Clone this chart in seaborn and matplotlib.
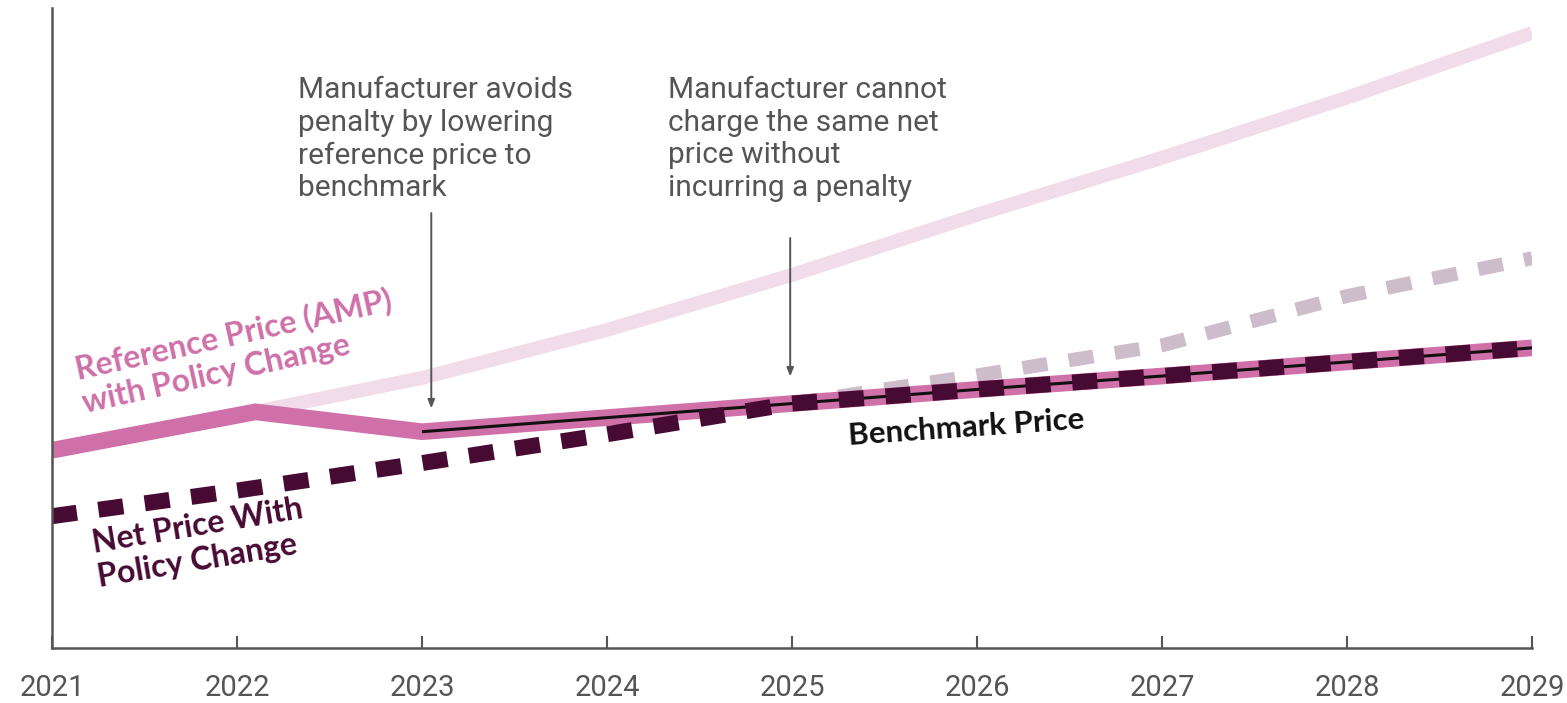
import seaborn as sns
import matplotlib.pyplot as plt
import pandas as pd

# years on the axis
years = [2021, 2022, 2023, 2024, 2025, 2026, 2027, 2028, 2029]

# reference price (AMP) with policy change: rises, then drops to benchmark in 2023
ref_policy_x = [2021, 2022.1, 2023, 2024, 2025, 2026, 2027, 2028, 2029]
ref_policy_y = [30.9, 36.9, 33.8, 36.0, 38.2, 40.4, 42.5, 44.7, 46.9]

# reference price without policy change (faded)
ref_base_x = [2022.1, 2023, 2024, 2025, 2026, 2027, 2028, 2029]
ref_base_y = [36.9, 42.2, 49.7, 58.3, 67.7, 76.6, 86.0, 96.1]

# benchmark price
bench_x = [2023, 2024, 2025, 2026, 2027, 2028, 2029]
bench_y = [33.8, 36.0, 38.2, 40.4, 42.5, 44.7, 46.9]

# net price with policy change
net_policy_y = [20.6, 24.6, 28.9, 33.4, 38.2, 40.4, 42.5, 44.7, 46.9]

# net price without policy change (faded, visible after 2025)
net_base_x = [2025, 2026, 2027, 2028, 2029]
net_base_y = [38.2, 42.6, 47.3, 55.0, 60.9]

PINK = '#CF70A9'
LIGHT_PINK = '#F1DCE9'
MAUVE = '#CDBDCB'
DARK = '#470A33'
GREY = '#555555'

sns.set_style('ticks')
plt.rcParams['font.family'] = ['Roboto', 'DejaVu Sans']

fig, ax = plt.subplots(figsize=(15.67, 7.03), dpi=100)
fig.subplots_adjust(left=0.0332, right=0.9777, bottom=0.0782, top=0.9886)

sns.lineplot(x=ref_base_x, y=ref_base_y, ax=ax, color=LIGHT_PINK, lw=10,
             solid_capstyle='butt')
sns.lineplot(x=net_base_x, y=net_base_y, ax=ax, color=MAUVE, lw=10,
             linestyle=(0, (1.8, 1.56)))
sns.lineplot(x=ref_policy_x, y=ref_policy_y, ax=ax, color=PINK, lw=12,
             solid_capstyle='butt', solid_joinstyle='miter')
sns.lineplot(x=bench_x, y=bench_y, ax=ax, color='#111111', lw=2.2,
             solid_capstyle='butt')
sns.lineplot(x=years, y=net_policy_y, ax=ax, color=DARK, lw=11.5,
             linestyle=(0, (1.57, 1.36)))

ax.set_xlim(2021, 2029)
ax.set_ylim(0, 100)
ax.set_xticks(years)
ax.set_xticklabels([str(y) for y in years])
ax.set_yticks([])
ax.set_xlabel('')
ax.set_ylabel('')
ax.tick_params(axis='x', direction='in', length=9, width=1.5, color=GREY,
               labelsize=21, labelcolor=GREY, pad=19)
for s in ['top', 'right']:
    ax.spines[s].set_visible(False)
for s in ['left', 'bottom']:
    ax.spines[s].set_color(GREY)
    ax.spines[s].set_linewidth(1.8)

# series labels
ax.text(2022.0, 46.3, 'Reference Price (AMP)\nwith Policy Change', color=PINK,
        fontsize=23, fontweight='bold', rotation=12.5, ha='center', va='center',
        multialignment='left', linespacing=1.2, family=['Lato', 'DejaVu Sans'])
ax.text(2021.8, 16.4, 'Net Price With\nPolicy Change', color=DARK,
        fontsize=23, fontweight='bold', rotation=9.5, ha='center', va='center',
        multialignment='left', linespacing=1.2, family=['Lato', 'DejaVu Sans'])
ax.text(2025.94, 34.4, 'Benchmark Price', color='#111111',
        fontsize=22.5, fontweight='bold', rotation=4, ha='center', va='center',
        family=['Lato', 'DejaVu Sans'])

# annotations
ax.text(2022.33, 89.3, 'Manufacturer avoids\npenalty by lowering\nreference price to\nbenchmark',
        color=GREY, fontsize=21.5, ha='left', va='top', linespacing=1.2)
ax.text(2024.33, 89.3, 'Manufacturer cannot\ncharge the same net\nprice without\nincurring a penalty',
        color=GREY, fontsize=21.5, ha='left', va='top', linespacing=1.2)
ax.annotate('', xy=(2023.05, 37.0), xytext=(2023.05, 68.4),
            arrowprops=dict(arrowstyle='-|>,head_length=0.5,head_width=0.2',
                            color=GREY, lw=1.4))
ax.annotate('', xy=(2024.99, 42.0), xytext=(2024.99, 64.5),
            arrowprops=dict(arrowstyle='-|>,head_length=0.5,head_width=0.2',
                            color=GREY, lw=1.4))

fig.savefig('out.png', dpi=100)
